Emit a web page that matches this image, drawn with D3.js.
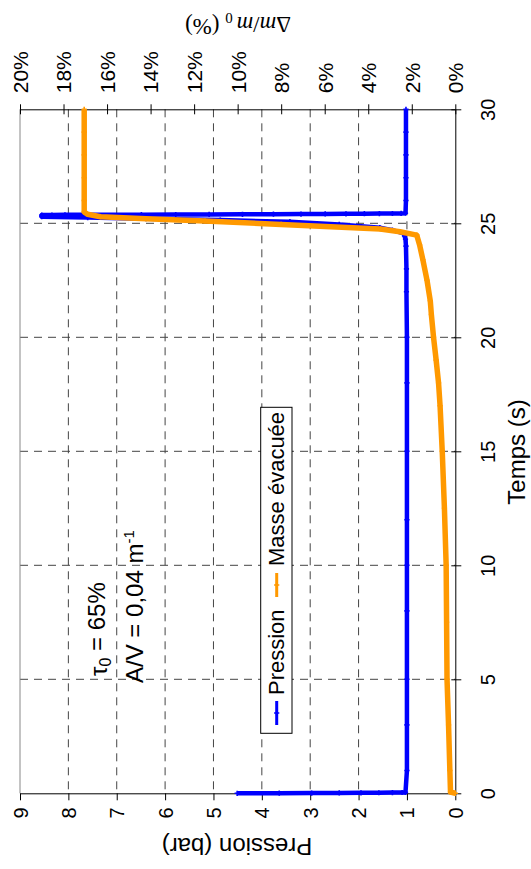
<!DOCTYPE html>
<html><head><meta charset="utf-8">
<script src="https://cdn.jsdelivr.net/npm/d3@7"></script>
<style>body{margin:0;background:#fff}svg{display:block}</style>
</head><body>
<script>
// ---- data ----
const timeTicks = [0, 5, 10, 15, 20, 25, 30];
const pressTicks = [0, 1, 2, 3, 4, 5, 6, 7, 8, 9];
const pctTicks = [0, 2, 4, 6, 8, 10, 12, 14, 16, 18, 20];

const pressTime = [0, 0.005, 0.01, 0.015, 0.02, 0.025, 0.03, 0.035, 0.04, 1, 3, 5, 8, 10, 12, 15, 18, 20, 22, 23, 24, 24.3, 24.45,
  24.56, 24.7, 24.81, 24.95, 25.07, 25.14, 25.2, 25.25, 25.29,
  25.36, 25.365, 25.37, 25.375, 25.38, 25.385, 25.39, 25.395, 25.4, 25.405, 25.41, 25.415, 25.42, 25.425, 25.43, 25.435, 25.44,
  26, 27, 28, 29, 30];
const pressVal = [4.51, 3.64, 2.97, 2.40, 1.95, 1.58, 1.30, 1.10, 1.03, 1.0, 1.0, 1.0, 1.0, 1.0, 1.0, 1.0, 1.0, 1.0, 1.01, 1.01, 1.02, 1.03, 1.05,
  1.07, 1.3, 1.56, 2.4, 3.42, 4.86, 6.4, 7.6, 8.55,
  8.55, 8.34, 8.07, 7.7, 6.49, 5.78, 5.09, 4.4, 3.76, 3.19, 2.69, 2.26, 1.88, 1.57, 1.3, 1.12, 1.03,
  1.02, 1.02, 1.02, 1.02, 1.02];

const massTime = [0, 0.05, 1, 3, 5, 7.5, 10, 12.5, 15, 17, 18, 19, 20, 21, 21.6, 22.5, 23.4, 24.05, 24.48,
  24.63, 24.75, 24.95, 25.1, 25.2, 25.29, 25.4, 25.5, 26, 27, 28, 29, 30];
const massVal = [0, 0.22, 0.25, 0.31, 0.38, 0.40, 0.42, 0.5, 0.6, 0.7, 0.77, 0.88, 1.0, 1.1, 1.15, 1.3, 1.49, 1.64, 1.77,
  2.54, 3.45, 8.0, 11.5, 14.2, 16.3, 16.9, 17.05, 17.05, 17.05, 17.05, 17.05, 17.05];

// ---- layout ----
const W = 531, H = 869;
const L = 20, R = 455.3, T = 109.3, B = 793.3;
const sans = "'Liberation Sans', Arial, sans-serif";
const serif = "'Liberation Serif', 'Times New Roman', serif";

const svg = d3.select("body").append("svg").attr("width", W).attr("height", H)
  .style("font-family", sans);

const yT = d3.scaleLinear().domain([0, 30]).range([B, T]);
const xP = d3.scaleLinear().domain([0, 9]).range([R, L]);
const xM = d3.scaleLinear().domain([0, 20]).range([R, L]);

// grid
svg.append("g").selectAll("line").data(pressTicks.filter(d => d > 0 && d < 9)).join("line")
  .attr("x1", d => xP(d)).attr("x2", d => xP(d)).attr("y1", T).attr("y2", B)
  .attr("stroke", "#444").attr("stroke-width", 1).attr("stroke-dasharray", "8,6");
svg.append("g").selectAll("line").data(timeTicks.filter(d => d > 0 && d < 30)).join("line")
  .attr("x1", L).attr("x2", R).attr("y1", d => yT(d)).attr("y2", d => yT(d))
  .attr("stroke", "#444").attr("stroke-width", 1).attr("stroke-dasharray", "8,6");

// left border
svg.append("line").attr("x1", L).attr("x2", L).attr("y1", T).attr("y2", B)
  .attr("stroke", "#888").attr("stroke-width", 1);

// bottom axis (Pression)
const gB = svg.append("g").attr("transform", `translate(0,${B})`)
  .call(d3.axisBottom(xP).tickValues(pressTicks).tickSize(7).tickSizeOuter(0).tickFormat(d3.format("d")));
gB.select(".domain").attr("stroke", "#000");
gB.selectAll("text").attr("transform", "rotate(-90)").attr("x", -14).attr("y", 0).attr("dy", "0.35em")
  .attr("text-anchor", "end").style("font-size", "20px").style("font-family", sans).attr("fill", "#000");

// top axis (Δm/m0)
const gT = svg.append("g").attr("transform", `translate(0,${T})`)
  .call(d3.axisTop(xM).tickValues(pctTicks).tickSize(5).tickSizeOuter(0).tickFormat(d => d + "%"));
gT.select(".domain").attr("stroke", "#000");
gT.selectAll(".tick line").attr("y1", 5).attr("y2", -5);
gT.selectAll("text").attr("transform", "rotate(-90)").attr("x", 16).attr("y", 0).attr("dy", "0.35em")
  .attr("text-anchor", "start").style("font-size", "21px").style("font-family", sans).attr("fill", "#000");

// right axis (Temps)
const gR = svg.append("g").attr("transform", `translate(${R},0)`)
  .call(d3.axisRight(yT).tickValues(timeTicks).tickSize(6).tickSizeOuter(0).tickFormat(d3.format("d")));
gR.select(".domain").attr("stroke", "#000");
gR.selectAll(".tick line").attr("x1", -4).attr("x2", 6);
gR.selectAll("text").attr("transform", "rotate(-90)").attr("x", 0).attr("y", 40).attr("dy", 0)
  .attr("text-anchor", "middle").style("font-size", "20px").style("font-family", sans).attr("fill", "#000");

// series
const plus = "M-2.6,0H2.6M0,-2.6V2.6";
function series(times, vals, xs, color, width) {
  const pts = times.map((t, i) => ({ t, v: vals[i] }));
  const g = svg.append("g");
  g.append("path").datum(pts)
    .attr("d", d3.line().x(d => xs(d.v)).y(d => yT(d.t)))
    .attr("fill", "none").attr("stroke", color).attr("stroke-width", width)
    .attr("stroke-linejoin", "round");
  g.selectAll("path.m").data(pts).join("path").attr("class", "m")
    .attr("transform", d => `translate(${xs(d.v)},${yT(d.t)})`)
    .attr("d", plus).attr("stroke", color).attr("stroke-width", 1.6).attr("fill", "none");
}
series(pressTime, pressVal, xP, "#0000ff", 4.5);
series(massTime, massVal, xM, "#ff9900", 5.5);

// axis titles
svg.append("text").attr("transform", "translate(237,846) rotate(180)").attr("dy", "0.35em")
  .attr("text-anchor", "middle").style("font-size", "24px").text("Pression (bar)");

const tt = svg.append("text").attr("transform", "translate(238,25) rotate(180)").attr("dy", "0.35em")
  .attr("text-anchor", "middle").style("font-size", "23px").style("font-family", serif);
tt.append("tspan").text("Δ");
tt.append("tspan").style("font-style", "italic").text("m");
tt.append("tspan").text("/");
tt.append("tspan").style("font-style", "italic").text("m");
tt.append("tspan").attr("dy", "0.25em").style("font-size", "15px").text(" 0");
tt.append("tspan").attr("dy", "-0.25em").text(" (%)");

svg.append("text").attr("transform", "translate(525,452) rotate(-90)")
  .attr("text-anchor", "middle").style("font-size", "24px").text("Temps (s)");

// legend
svg.append("rect").attr("x", 260.7).attr("y", 407.3).attr("width", 31.3).attr("height", 326)
  .attr("fill", "#fff").attr("stroke", "#000").attr("stroke-width", 1);
const legendItems = [
  { label: "Pression", color: "#0000ff", ky: 713, ty: 695 },
  { label: "Masse évacuée", color: "#ff9900", ky: 585, ty: 566 }
];
legendItems.forEach(it => {
  svg.append("line").attr("x1", 276.7).attr("x2", 276.7).attr("y1", it.ky - 12).attr("y2", it.ky + 12)
    .attr("stroke", it.color).attr("stroke-width", 3);
  svg.append("path").attr("transform", `translate(276.7,${it.ky})`).attr("d", plus)
    .attr("stroke", it.color).attr("stroke-width", 1.6);
  svg.append("text").attr("transform", `translate(284,${it.ty}) rotate(-90)`)
    .style("font-size", "22px").text(it.label);
});

// annotations
const a1 = svg.append("text").attr("transform", "translate(107,676) rotate(-90)").style("font-size", "24px");
a1.append("tspan").text("τ");
a1.append("tspan").attr("dy", "0.25em").style("font-size", "16px").text("0");
a1.append("tspan").attr("dy", "-0.25em").text(" = 65%");

const a2 = svg.append("text").attr("transform", "translate(143,683) rotate(-90)").style("font-size", "24px");
a2.append("tspan").text("A/V = 0,04 m");
a2.append("tspan").attr("dy", "-0.6em").style("font-size", "15px").text("-1");
</script>
</body></html>
